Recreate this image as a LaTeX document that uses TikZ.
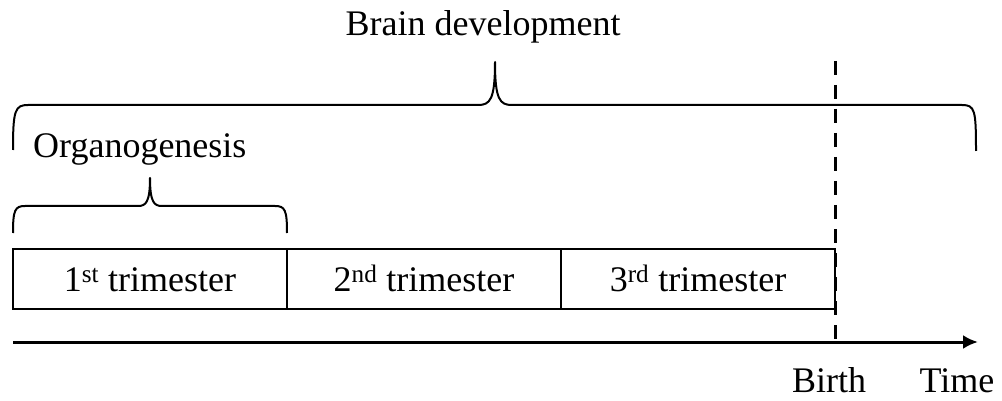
\documentclass[tikz,border=0pt]{standalone}
\usepackage{fontspec}
\setmainfont{Liberation Serif}
\usetikzlibrary{positioning,arrows.meta}
\tikzset{
  period/.style  = {shape=rectangle, draw, line width=2.5pt,
                    minimum width=274pt, minimum height=60pt,
                    text height=25pt, text depth=0pt,
                    outer sep=0pt, inner sep=0pt},
  label/.style   = {font=\fontsize{36}{43}\selectfont, inner sep=0pt},
  bracket/.style = {draw, line width=2pt, line join=round},
  timeaxis/.style= {draw, line width=3pt, -{Latex[length=15pt,width=14pt]}},
  birthline/.style={draw, line width=3pt, dash pattern=on 14pt off 10pt}
}

\begin{document}
\begin{tikzpicture}
  [
    x=1pt, y=-1pt,
    every node/.style = {label}
  ]
  \useasboundingbox (0,0) rectangle (1002,401);
  % trimesters
  \node [period] (tri1) at (150,279) {1\textsuperscript{st} trimester};
  \node [period, right=0pt of tri1] (tri2) {2\textsuperscript{nd} trimester};
  \node [period, right=0pt of tri2] (tri3) {3\textsuperscript{rd} trimester};
  % time axis
  \coordinate (t0)   at (13,342);
  \coordinate (tend) at (978,342);
  \coordinate (btop) at (835,61);
  \draw [timeaxis] (t0) -- (tend);
  \draw [birthline] (btop) -- (btop |- t0);
  \node [anchor=base] (birth) at (829,392) {Birth};
  \node [anchor=base] (time)  at (957,392) {Time};
  % braces
  \draw [bracket] (13,150) .. controls (13,110) and (15,105) .. (28,105)
    -- (478,105) .. controls (490,105) and (495,100) .. (495,62)
    .. controls (495,100) and (500,105) .. (512,105)
    -- (962,105) .. controls (975,105) and (976,110) .. (976,151);
  \node [anchor=base] (brain) at (483,36) {Brain development};
  \draw [bracket] (13,233) .. controls (13,210) and (15,206) .. (25,206)
    -- (138,206) .. controls (146,206) and (150,202) .. (150,178)
    .. controls (150,202) and (154,206) .. (162,206)
    -- (275,206) .. controls (285,206) and (287,210) .. (287,233);
  \node [anchor=base west] (organo) at (33,158) {Organogenesis};
\end{tikzpicture}
\end{document}
